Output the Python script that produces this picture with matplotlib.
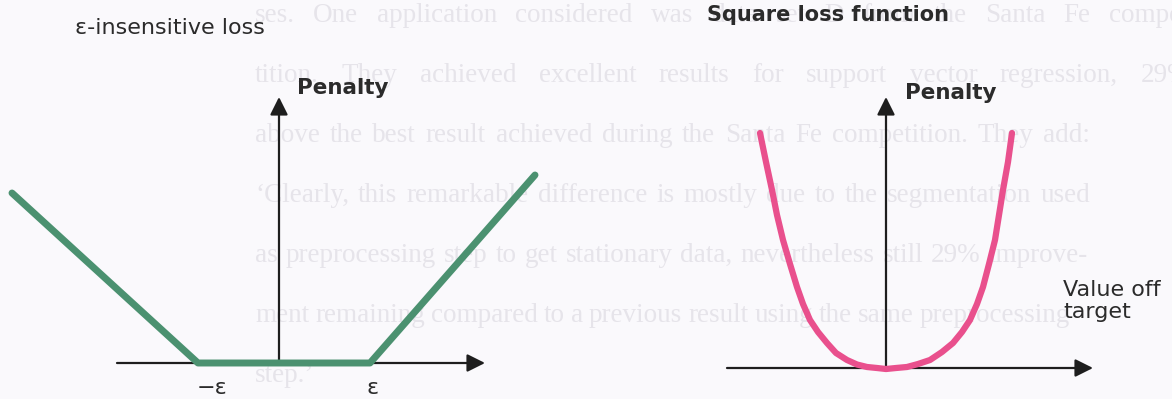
import matplotlib
matplotlib.use("Agg")
import matplotlib.pyplot as plt

# epsilon-insensitive loss: corners of the tube (error, penalty)
tube_x = [-2.67, -0.81, 0.91, 2.56]
tube_y = [1.70, 0.0, 0.0, 1.88]
eps_ticks = [-0.81, 0.91]
eps_labels = ["\u2212\u03b5", "\u03b5"]

# square loss, points along the curve (error, penalty)
sq_x = [-1.26, -1.20, -1.14, -1.09, -1.03, -0.96, -0.89, -0.83, -0.76,
        -0.68, -0.59, -0.50, -0.39, -0.29, -0.19, -0.09, 0.0,
        0.10, 0.21, 0.32, 0.44, 0.56, 0.67, 0.76, 0.84, 0.91, 0.97,
        1.03, 1.09, 1.13, 1.17, 1.22, 1.26]
sq_y = [2.35, 2.06, 1.78, 1.53, 1.28, 1.04, 0.81, 0.64, 0.48,
        0.36, 0.25, 0.15, 0.08, 0.035, 0.01, 0.0, -0.01,
        0.0, 0.01, 0.04, 0.08, 0.16, 0.25, 0.36, 0.48, 0.64, 0.81,
        1.04, 1.28, 1.53, 1.78, 2.06, 2.35]

# page text lying under the figures
page_lines = [
    "ses. One application considered was data set D from the Santa Fe compe-",
    "tition. They achieved excellent results for support vector regression, 29%",
    "above the best result achieved during the Santa Fe competition. They add:",
    "\u2018Clearly, this remarkable difference is mostly due to the segmentation used",
    "as preprocessing step to get stationary data, nevertheless still 29% improve-",
    "ment remaining compared to a previous result using the same preprocessing",
    "step.\u2019",
]
line_right = [1190, 1190, 1090, 1090, 1088, 1062, None]

W, H = 1172, 399
fig = plt.figure(figsize=(W / 100, H / 100), dpi=100)
fig.patch.set_facecolor("#faf9fc")

bg = fig.add_axes([0, 0, 1, 1])
bg.set_xlim(0, W)
bg.set_ylim(H, 0)
bg.axis("off")

fig.canvas.draw()
renderer = fig.canvas.get_renderer()
for i, line in enumerate(page_lines):
    y = 15 + 60 * i
    words = line.split()
    arts = [bg.text(0, y, w, fontsize=19.5, family="Liberation Serif",
                    color="#e6e4ea", va="center", zorder=0) for w in words]
    widths = [a.get_window_extent(renderer).width for a in arts]
    if line_right[i] is None or len(words) == 1:
        gap = 9
    else:
        gap = (line_right[i] - 255 - sum(widths)) / (len(words) - 1)
        gap = max(gap, 6)
    x = 255
    for a, w in zip(arts, widths):
        a.set_x(x)
        x += w + gap

ink = "#1e1e1e"
txt = "#2b2b2b"
arrow = dict(arrowstyle="-|>,head_length=0.6,head_width=0.3", lw=1.6,
             color=ink, shrinkA=0, shrinkB=0, mutation_scale=18)

# left panel, origin at the penalty axis
ax1 = fig.add_axes([0, 0, 1, 1])
ax1.set_xlim(-2.79, W / 100 - 2.79)
ax1.set_ylim(-0.36, 3.63)
ax1.axis("off")
ax1.annotate("", xy=(2.06, 0), xytext=(-1.62, 0), arrowprops=arrow)
ax1.annotate("", xy=(0, 2.66), xytext=(0, 0), arrowprops=arrow)
ax1.plot(tube_x, tube_y, color="#4b9170", lw=5, solid_capstyle="round",
         solid_joinstyle="round", zorder=5)
ax1.text(-2.04, 3.35, "\u03b5-insensitive loss", fontsize=16, color=txt,
         va="center", ha="left")
ax1.text(0.18, 2.75, "Penalty", fontsize=15.5, fontweight="bold", color=txt,
         va="center", ha="left")
ax1.text(eps_ticks[0] - 0.01, -0.25, eps_labels[0], fontsize=16, color=txt,
         va="center", ha="left")
ax1.text(eps_ticks[1] + 0.03, -0.25, eps_labels[1], fontsize=16, color=txt,
         va="center", ha="center")

# right panel
ax2 = fig.add_axes([0, 0, 1, 1])
ax2.set_xlim(-8.86, W / 100 - 8.86)
ax2.set_ylim(-0.31, 3.68)
ax2.axis("off")
ax2.annotate("", xy=(2.07, 0), xytext=(-1.59, 0), arrowprops=arrow)
ax2.annotate("", xy=(0, 2.71), xytext=(0, 0), arrowprops=arrow)
ax2.plot(sq_x, sq_y, color="#e9508d", lw=4.5, solid_capstyle="round",
         solid_joinstyle="round", zorder=5)
ax2.text(-1.79, 3.53, "Square loss function", fontsize=15, fontweight="bold",
         color=txt, va="center", ha="left")
ax2.text(0.19, 2.75, "Penalty", fontsize=15.5, fontweight="bold", color=txt,
         va="center", ha="left")
ax2.text(1.77, 0.67, "Value off\ntarget", fontsize=16, color=txt,
         va="center", ha="left", linespacing=1.15)

fig.savefig("out.png", dpi=100, facecolor=fig.get_facecolor())
